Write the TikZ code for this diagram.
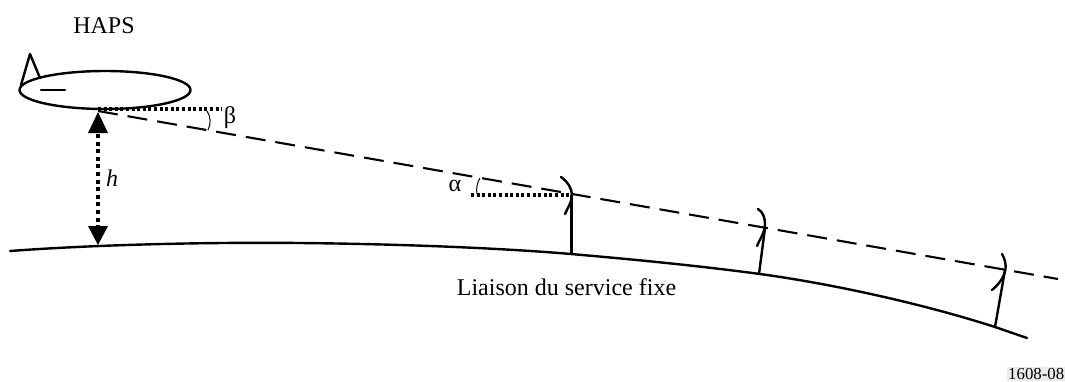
\documentclass[tikz,border=0pt]{standalone}
\usepackage{fontspec}
\setmainfont{Liberation Serif}
\usetikzlibrary{shapes.geometric}
\tikzset{
  line/.style={line width=2.4pt,line cap=round,line join=round},
  ground/.style={line width=2.4pt,line cap=round},
  beam/.style={line width=2.1pt,dash pattern=on 20pt off 10pt},
  dots/.style={line width=3.2pt,dash pattern=on 3pt off 2.6pt},
  vdots/.style={line width=4.6pt,dash pattern=on 4pt off 3.6pt},
  angmark/.style={line width=1pt},
  lbl/.style={inner sep=0pt,font=\fontsize{24}{26}\selectfont},
  tipshape/.style={fill=black,draw=none}
}
\begin{document}
\begin{tikzpicture}[x=1pt,y=-1pt]
\useasboundingbox (0,0) rectangle (1065,381);
% labels
\node[lbl] (haps) at (104,26) {HAPS};
\node[lbl] (beta) at (230,118) {β};
\node[lbl] (alpha) at (455,186) {α};
\node[lbl] (hlabel) at (112,178) {\textit{h}};
\node[lbl] (link) at (566.5,287) {Liaison du service fixe};
\node[anchor=west,inner xsep=1pt,inner ysep=1pt,fill=black!8,font=\fontsize{16.8}{19}\selectfont] (ref) at (1007,374) {1608-08};
% airship
\node[draw,line width=2.4pt,ellipse,minimum width=171pt,minimum height=38pt,inner sep=0pt] (ship) at (105,90) {};
\coordinate (tailA) at (21,85);
\coordinate (tailB) at (30,54);
\coordinate (tailC) at (40,78);
\draw[line] (tailA) -- (tailB) -- (tailC);
\coordinate (finA) at (41,90);
\coordinate (finB) at (65,90);
\draw[line] (finA) -- (finB);
% beam and reference lines
\coordinate (beamA) at (98,111);
\coordinate (beamB) at (1058,279);
\draw[beam] (beamA) -- (beamB);
\coordinate (hzA) at (98,109);
\coordinate (hzB) at (222,109);
\draw[dots] (hzA) -- (hzB);
\coordinate (alA) at (471,195);
\coordinate (alB) at (571,195);
\draw[dots] (alA) -- (alB);
% angle marks
\coordinate (arcBa) at (207,111);
\coordinate (arcBb) at (208,130);
\draw[angmark] (arcBa) .. controls (211,117) and (211,124) .. (arcBb);
\coordinate (arcAa) at (480,178);
\coordinate (arcAb) at (477,194);
\draw[angmark] (arcAa) .. controls (477,183) and (476,189) .. (arcAb);
% height arrow
\coordinate (hTop) at (98,112);
\coordinate (hBot) at (98,245);
\draw[vdots] (98,134) -- (98,226);
\fill[tipshape] (hTop) -- (108,133) -- (88,133) -- cycle;
\fill[tipshape] (hBot) -- (108,226) -- (88,226) -- cycle;
% ground
\coordinate (gStart) at (10,251);
\coordinate (gEnd) at (1027,338);
\draw[ground] (gStart) .. controls (90,245) and (200,242) .. (300,243)
  .. controls (400,244) and (500,248) .. (571,254)
  .. controls (640,260) and (700,266) .. (760,274)
  .. controls (840,285) and (930,306) .. (995,327)
  -- (gEnd);
% antennas
\coordinate (m1a) at (571.5,254);
\coordinate (m1b) at (571.5,195);
\draw[line width=3pt] (m1a) -- (m1b);
\draw[line] (561,177) .. controls (568,182) and (572,189) .. (572,195) .. controls (572,202) and (568,207) .. (565,214);
\coordinate (m2a) at (759,274);
\coordinate (m2b) at (765,228);
\draw[line] (m2a) -- (m2b);
\draw[line] (758,209) .. controls (763,212) and (765,218) .. (765,224) .. controls (765,232) and (760,239) .. (757,246);
\coordinate (m3a) at (995,327);
\coordinate (m3b) at (1005,270);
\draw[line] (m3a) -- (m3b);
\draw[line] (1002,254) .. controls (1005,259) and (1006,264) .. (1005.5,269) .. controls (1004,278) and (998,285) .. (992,290);
\end{tikzpicture}
\end{document}
